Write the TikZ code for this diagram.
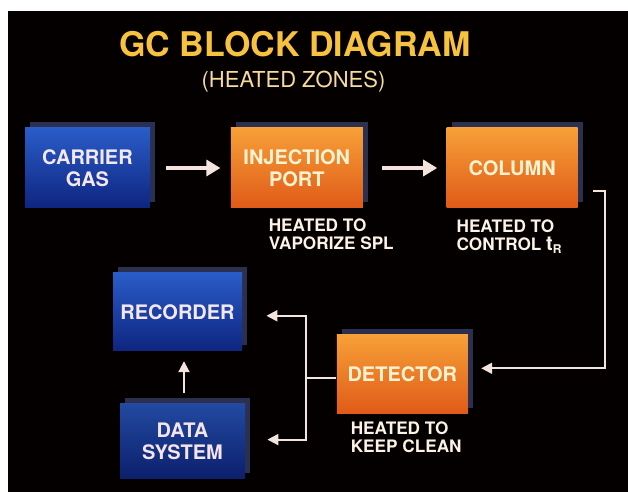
\documentclass[tikz,border=0pt]{standalone}
\usepackage{fontspec}
\setmainfont{TeX Gyre Heros}
\usetikzlibrary{positioning,shadows,arrows.meta}

\definecolor{bluetop}{HTML}{2A5CC8}
\definecolor{bluebot}{HTML}{0E2580}
\definecolor{orangetop}{HTML}{F7A038}
\definecolor{orangebot}{HTML}{E05A18}
\definecolor{boxshade}{HTML}{2C3050}
\definecolor{titlecol}{HTML}{F7C23E}
\definecolor{subcol}{HTML}{F6DC9A}
\definecolor{bluetext}{HTML}{F4E8F0}
\definecolor{orangetext}{HTML}{FFF3D2}
\definecolor{lblcol}{HTML}{FCF2E6}
\definecolor{wirecol}{HTML}{F4E4DE}

\begin{document}
\begin{tikzpicture}[x=.5pt, y=-.5pt,
  bluebox/.style={rectangle, top color=bluetop, bottom color=bluebot, text=bluetext,
    font=\bfseries\fontsize{10}{11}\selectfont, align=center, inner sep=0pt,
    general shadow={fill=boxshade, shadow xshift=2.5pt, shadow yshift=3pt}},
  orangebox/.style={rectangle, top color=orangetop, bottom color=orangebot, text=orangetext,
    font=\bfseries\fontsize{10}{11}\selectfont, align=center, inner sep=0pt,
    general shadow={fill=boxshade, shadow xshift=2.5pt, shadow yshift=3pt}},
  lbl/.style={text=lblcol, font=\bfseries\fontsize{8.6}{9.2}\selectfont, align=left, inner sep=0pt, anchor=north west},
  bigarrow/.style={draw=wirecol, line width=1.6pt, -{Triangle[length=7pt,width=8pt]}},
  thinline/.style={draw=wirecol, line width=1pt},
  thinarrow/.style={thinline, -{Triangle[length=5.5pt,width=5.5pt]}}]

  % backdrop
  \useasboundingbox (0,0) rectangle (628,492);
  \fill [white] (0,0) rectangle (628,492);
  \fill [black!98!red] (8,11) rectangle (628,492);

  % heading
  \node (title) [anchor=base, inner sep=0pt, text=titlecol, font=\bfseries\fontsize{17}{20}\selectfont] at (295,57) {GC BLOCK DIAGRAM};
  \node (subtitle) [anchor=base, inner sep=0pt, text=subcol, font=\fontsize{11}{13}\selectfont, xshift=-.75pt, yshift=-15.5pt] at (title.base) {(HEATED ZONES)};

  % blocks
  \node (carrier) [bluebox, minimum width=62.5pt, minimum height=40pt] at (87.5,168) {CARRIER\\GAS};
  \node (injection) [orangebox, right=40pt of carrier, minimum width=66pt, minimum height=40pt] {INJECTION\\PORT};
  \node (column) [orangebox, right=41.5pt of injection, minimum width=65.5pt, minimum height=40pt] {COLUMN};
  \node (detector) [orangebox, below=63pt of injection, xshift=52.75pt, minimum width=65.5pt, minimum height=39.5pt] {DETECTOR};
  \node (recorder) [bluebox, left=47pt of detector, yshift=31.25pt, minimum width=64.5pt, minimum height=39pt] {RECORDER};
  \node (data) [bluebox, below=26pt of recorder, xshift=2.5pt, minimum width=62.5pt, minimum height=37.5pt,
    top color=bluetop!80!black, bottom color=bluebot!85!black, text=bluetext!90!pink] {DATA\\SYSTEM};

  % notes under the heated zones
  \node (injnote) [lbl] at ([xshift=19pt, yshift=-5pt]injection.south west) {HEATED TO\\VAPORIZE SPL};
  \node (colnote) [lbl] at ([xshift=5pt, yshift=-5.3pt]column.south west) {HEATED TO\\CONTROL {\fontsize{10}{10}\selectfont t}\textsubscript{R}};
  \node (detnote) [lbl] at ([xshift=7pt, yshift=-3.5pt]detector.south west) {HEATED TO\\KEEP CLEAN};

  % flow
  \draw [bigarrow, shorten <=8pt, shorten >=5pt] (carrier.east) -- (carrier.east -| injection.west);
  \draw [bigarrow, shorten <=9.5pt, shorten >=4.5pt] (injection.east) -- (injection.east -| column.west);
  \draw [thinarrow] ([xshift=7.5pt, yshift=-11.5pt]column.east) -- ++(6pt,0) |- ([xshift=6.5pt, yshift=3pt]detector.east);
  \coordinate (split) at ([xshift=-15pt, yshift=-2pt]detector.west);
  \draw [thinline] ([yshift=-2pt]detector.west) -- (split);
  \draw [thinarrow] (split) |- ([xshift=12pt, yshift=-2pt]recorder.east);
  \draw [thinarrow] (split) |- ([xshift=11pt, yshift=.75pt]data.east);
  \draw [thinarrow, shorten <=5pt, shorten >=5pt] ([xshift=.75pt]data.north) -- ([xshift=.75pt]data.north |- recorder.south);
\end{tikzpicture}
\end{document}
